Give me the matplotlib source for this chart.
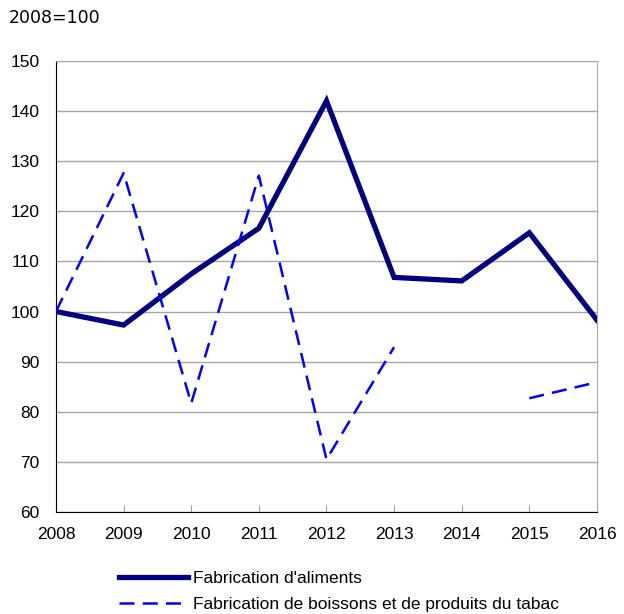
import numpy as np
import matplotlib
matplotlib.use('Agg')
import matplotlib.pyplot as plt
from matplotlib.lines import Line2D

# ---- data ----
years = [2008, 2009, 2010, 2011, 2012, 2013, 2014, 2015, 2016]
aliments = [100, 97.3, 107.5, 116.6, 142.0, 106.8, 106.1, 115.7, 98.3]
boissons = [100, 127.6, 81.7, 127.1, 70.5, 92.9, np.nan, 82.7, 85.9]
labels = ["Fabrication d'aliments",
          "Fabrication de boissons et de produits du tabac"]

plt.rcParams['font.family'] = ['Liberation Sans', 'DejaVu Sans']

fig = plt.figure(figsize=(6.24, 6.14), dpi=100)
ax = fig.add_axes([0.0897, 0.166, 0.867, 0.735])

ax.plot(years, aliments, color='#000080', lw=3.8, solid_joinstyle='miter', zorder=3)
ax.plot(years, boissons, color='#0000ff', lw=1.8, dashes=(6, 3.3), zorder=3)

ax.set_xlim(2008, 2016)
ax.set_ylim(60, 150)
ax.set_xticks(years)
ax.set_yticks(range(60, 151, 10))
ax.tick_params(axis='both', labelsize=12.5, colors='black')
ax.tick_params(axis='y', length=0, pad=12)
ax.tick_params(axis='x', length=5, direction='in', color='#a0a0a0', pad=11)
ax.grid(axis='y', color='#a6a6a6', lw=1)
ax.set_axisbelow(True)
for s in ['top', 'right']:
    ax.spines[s].set_color('#a6a6a6')
ax.spines['left'].set_color('black')
ax.spines['bottom'].set_color('black')

fig.text(0.014, 0.970, '2008=100', fontsize=12.5, family='DejaVu Sans', va='center')

handles = [Line2D([], [], color='#000080', lw=3.8),
           Line2D([], [], color='#0000ff', lw=1.8, dashes=(6, 3.3))]
fig.legend(handles, labels, loc='lower left', bbox_to_anchor=(0.165, -0.022),
           frameon=False, fontsize=12.5, handlelength=4.0, handletextpad=0.3,
           labelspacing=0.6)

fig.savefig('out.png', dpi=100)
